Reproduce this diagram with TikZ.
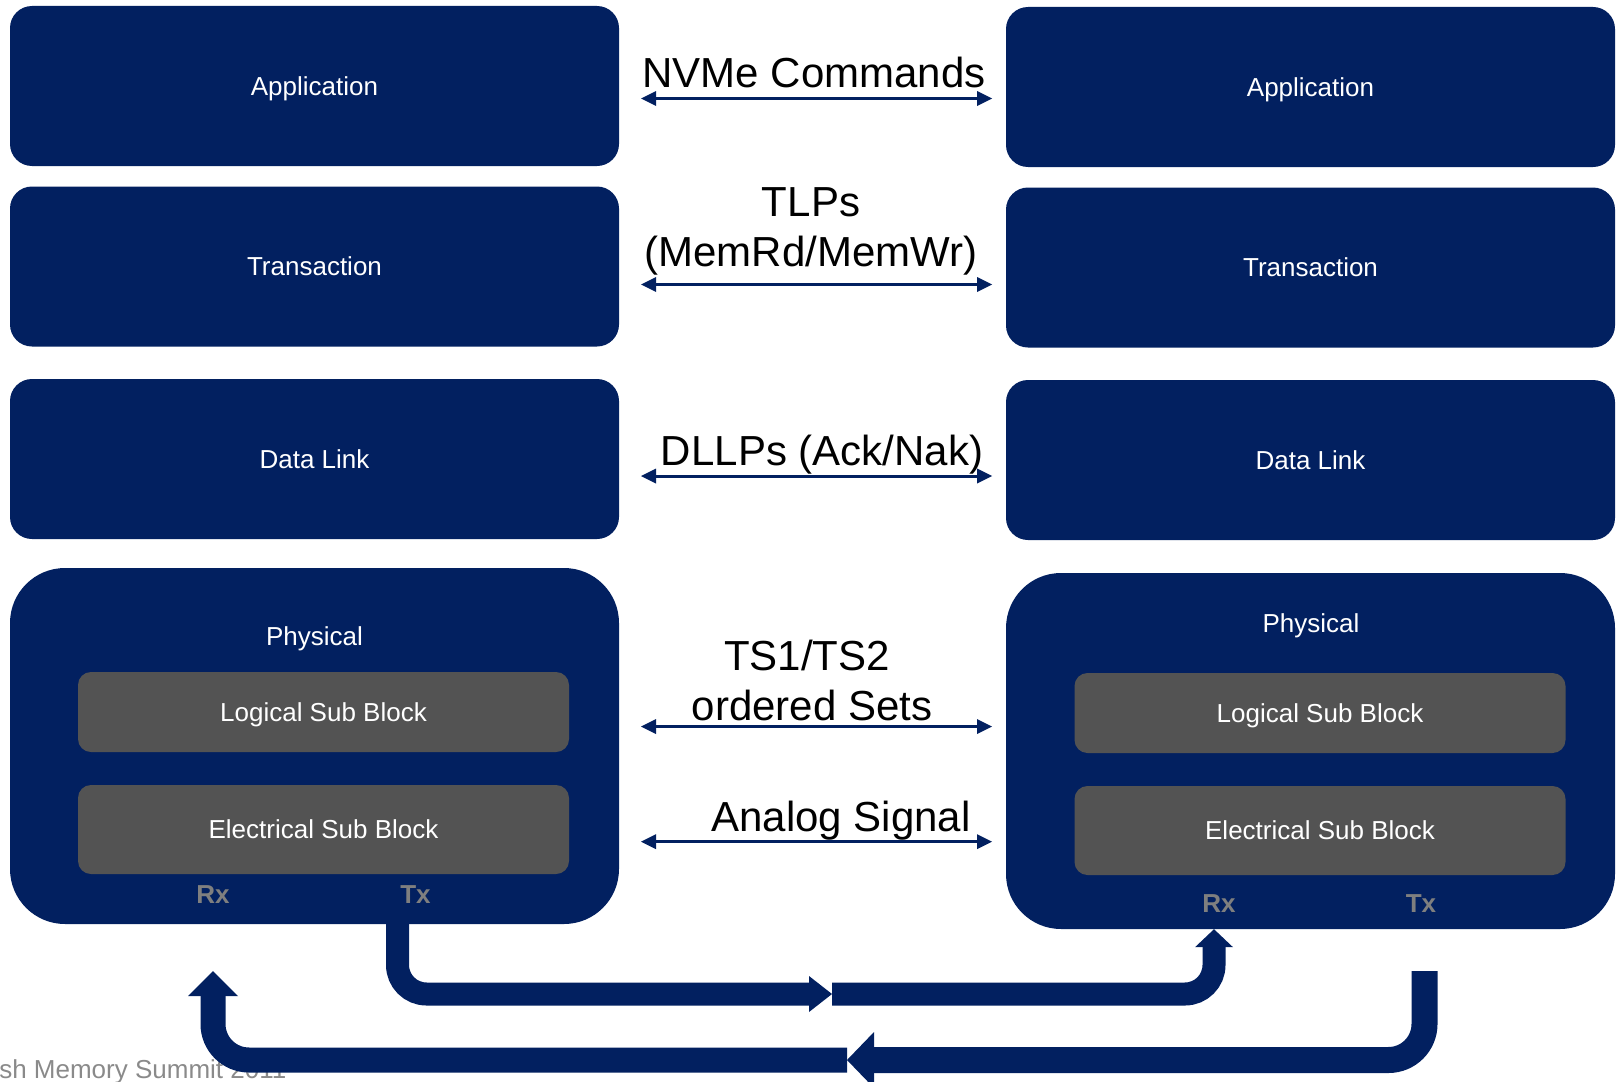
\documentclass[tikz,border=0pt]{standalone}
\usepackage{fontspec}
\setmainfont{Liberation Sans}
\usetikzlibrary{arrows.meta,calc}
\definecolor{navy}{HTML}{022060}
\definecolor{subgray}{HTML}{535353}
\definecolor{portgray}{HTML}{7F7F7F}
\definecolor{footgray}{HTML}{8A8A8A}
\pgfdeclarelayer{back}
\pgfsetlayers{back,main}

\begin{document}
\begin{tikzpicture}[x=1pt,y=-1pt,
  layerbox/.style={fill=navy, rounded corners=22pt, minimum width=609pt,
    minimum height=160pt, inner sep=0pt, text=white,
    font=\fontsize{26}{30}\selectfont, text height=18.6pt, text depth=0pt},
  physbox/.style={fill=navy, rounded corners=55pt, minimum width=609pt,
    minimum height=356pt, inner sep=0pt},
  whitelbl/.style={text=white, inner sep=0pt,
    font=\fontsize{26}{30}\selectfont, text height=18.6pt, text depth=0pt},
  subbox/.style={fill=subgray, rounded corners=13pt, minimum width=491pt,
    inner sep=0pt, text=white,
    font=\fontsize{26}{30}\selectfont, text height=18.6pt, text depth=0pt},
  portlbl/.style={text=portgray, inner sep=0pt,
    font=\fontsize{26}{30}\selectfont\bfseries, text height=18.6pt, text depth=0pt},
  msglbl/.style={text=black, inner sep=0pt, anchor=base,
    font=\fontsize{42}{50}\selectfont},
  msgarrow/.style={draw=navy, line width=3pt,
    {Triangle[width=15pt,length=15pt,line width=0pt]}-{Triangle[width=15pt,length=15pt,line width=0pt]}},
  linkA/.style={draw=navy, line width=23pt, rounded corners=29pt},
  linkB/.style={draw=navy, line width=26pt, rounded corners=36pt},
]
\useasboundingbox (0,0) rectangle (1616,1081);
\clip (0,0) rectangle (1616,1081);

% ---- left protocol stack ----
\node[layerbox] (LApp)   at (314.5,86)    {Application};
\node[layerbox] (LTrans) at (314.5,266.5) {Transaction};
\node[layerbox] (LDL)    at (314.5,459)   {Data Link};
\node[physbox]  (LPhy)   at (314.5,746)   {};
\node[whitelbl] (LPhyL)  at (314.5,636)   {Physical};
\node[subbox, minimum height=80pt] (LLog) at (323.5,712)   {Logical Sub Block};
\node[subbox, minimum height=89pt] (LEle) at (323.5,829.5) {Electrical Sub Block};
\node[portlbl] (LRx) at (213,894.6)   {Rx};
\node[portlbl] (LTx) at (415.5,894.6) {Tx};

% ---- right protocol stack ----
\node[layerbox] (RApp)   at (1310.5,87)    {Application};
\node[layerbox] (RTrans) at (1310.5,267.5) {Transaction};
\node[layerbox] (RDL)    at (1310.5,460)   {Data Link};
\node[physbox]  (RPhy)   at (1310.5,751)   {};
\node[whitelbl] (RPhyL)  at (1311,623.5)   {Physical};
\node[subbox, minimum height=80pt] (RLog) at (1320,713)   {Logical Sub Block};
\node[subbox, minimum height=89pt] (REle) at (1320,830.5) {Electrical Sub Block};
\node[portlbl] (RRx) at (1219,903.5) {Rx};
\node[portlbl] (RTx) at (1421,903.5) {Tx};

% ---- packets exchanged between peer layers ----
\node[msglbl] (mNVMe) at (814,87)    {NVMe Commands};
\node[msglbl] (mTLP1) at (811,216.7) {TLPs};
\node[msglbl] (mTLP2) at (811,266.7) {(MemRd/MemWr)};
\node[msglbl] (mDLLP) at (822,465)   {DLLPs (Ack/Nak)};
\node[msglbl] (mTS1)  at (807,670)   {TS1/TS2};
\node[msglbl] (mTS2)  at (812,720)   {ordered Sets};
\node[msglbl] (mAna)  at (841,831.7) {Analog Signal};

\coordinate (e1l) at (641,98.5);  \coordinate (e1r) at (992,98.5);
\coordinate (e2l) at (641,284.5); \coordinate (e2r) at (992,284.5);
\coordinate (e3l) at (641,476);   \coordinate (e3r) at (992,476);
\coordinate (e4l) at (641,726.5); \coordinate (e4r) at (992,726.5);
\coordinate (e5l) at (641,841.7); \coordinate (e5r) at (992,841.7);
\foreach \i in {1,...,5} \draw[msgarrow] (e\i l) -- (e\i r);

% ---- differential links between the physical layers ----
\coordinate (ltxPort) at ([xshift=83pt,yshift=10pt]LPhy.south);
\coordinate (aMid)    at (832,994);
\coordinate (rrxPort) at ([xshift=-96.5pt]RPhy.south);
\coordinate (rtxPort) at (1424.5,971);
\coordinate (bMid)    at (847,1060);
\coordinate (lrxPort) at (213,971);

\begin{pgfonlayer}{back}
  \node[text=footgray, anchor=base west, inner sep=0pt,
        font=\fontsize{26}{30}\selectfont] (foot) at (-37,1078)
        {Flash Memory Summit 2011};
  \draw[linkA, -{Triangle[width=36pt,length=23pt,line width=0pt]}]
        (ltxPort) |- (aMid);
  \draw[linkA, -{Triangle[width=38pt,length=18pt,line width=0pt]}]
        (aMid) -| (rrxPort);
  \draw[linkB, -{Triangle[width=56pt,length=27pt,line width=0pt]}]
        (rtxPort) |- (bMid);
  \draw[linkB, line width=25pt, -{Triangle[width=50pt,length=25pt,line width=0pt]}]
        (bMid) -| (lrxPort);
\end{pgfonlayer}
\end{tikzpicture}
\end{document}
